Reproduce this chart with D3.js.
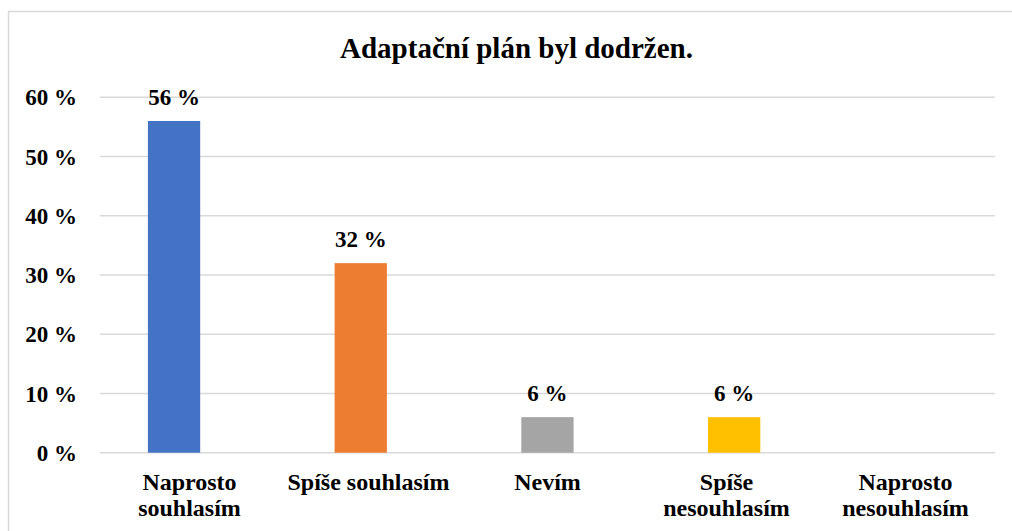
<!DOCTYPE html>
<html>
<head>
<meta charset="utf-8">
<script src="https://cdn.jsdelivr.net/npm/d3@7"></script>
<style>
  html, body { margin: 0; padding: 0; background: #fff; }
  svg { display: block; }
  text { font-family: "Liberation Serif", "Times New Roman", serif; font-weight: bold; fill: #000; }
</style>
</head>
<body>
<script>
const title = "Adaptační plán byl dodržen.";
const categories = ["Naprosto souhlasím", "Spíše souhlasím", "Nevím", "Spíše nesouhlasím", "Naprosto nesouhlasím"];
const categoryLines = [["Naprosto", "souhlasím"], ["Spíše souhlasím"], ["Nevím"], ["Spíše", "nesouhlasím"], ["Naprosto", "nesouhlasím"]];
const values = [56, 32, 6, 6, 0];
const valueLabels = ["56 %", "32 %", "6 %", "6 %", ""];
const colors = ["#4472C4", "#ED7D31", "#A5A5A5", "#FFC000", "#5B9BD5"];
const yTicks = [0, 10, 20, 30, 40, 50, 60];
const yTickLabels = ["0 %", "10 %", "20 %", "30 %", "40 %", "50 %", "60 %"];

const W = 1012, H = 531;
const svg = d3.select("body").append("svg").attr("width", W).attr("height", H);

// chart frame
svg.append("path")
  .attr("d", "M8.5,531 L8.5,11.5 L1012,11.5")
  .attr("fill", "none").attr("stroke", "#d9d9d9").attr("stroke-width", 1.5);

const y = d3.scaleLinear().domain([0, 60]).range([452.7, 97.3]);
const xBars = d3.scaleBand().domain(categories).range([80.7, 1014.2]).paddingInner(0.72).paddingOuter(0.36);
const xLabels = d3.scaleBand().domain(categories).range([100, 995]);

// gridlines
svg.append("g").selectAll("line").data(yTicks).join("line")
  .attr("x1", 100).attr("x2", 995)
  .attr("y1", d => y(d)).attr("y2", d => y(d))
  .attr("stroke", "#d9d9d9").attr("stroke-width", 1.5);

// y axis labels
const yAxis = d3.axisLeft(y).tickValues(yTicks).tickFormat((d, i) => yTickLabels[i]).tickSize(0).tickPadding(0);
const gy = svg.append("g").attr("transform", "translate(77,0)").call(yAxis);
gy.select(".domain").remove();
gy.selectAll("text").attr("font-size", 23).attr("dy", "0.33em")
  .style("font-family", '"Liberation Serif", serif').style("font-weight", "bold").attr("fill", "#000");

// bars
svg.append("g").selectAll("rect").data(values).join("rect")
  .attr("x", (d, i) => xBars(categories[i]))
  .attr("width", xBars.bandwidth())
  .attr("y", d => y(d))
  .attr("height", d => y(0) - y(d))
  .attr("fill", (d, i) => colors[i]);

// value labels
svg.append("g").selectAll("text").data(values).join("text")
  .attr("x", (d, i) => xBars(categories[i]) + xBars.bandwidth() / 2)
  .attr("y", d => y(d) - 16)
  .attr("text-anchor", "middle").attr("font-size", 23)
  .text((d, i) => valueLabels[i]);

// category labels
const gx = svg.append("g");
categoryLines.forEach((lines, i) => {
  const cx = xLabels(categories[i]) + xLabels.bandwidth() / 2;
  const t = gx.append("text")
    .attr("x", cx)
    .attr("y", 489.5)
    .attr("text-anchor", "middle").attr("font-size", 24);
  lines.forEach((ln, j) => {
    t.append("tspan").attr("x", cx)
      .attr("dy", j === 0 ? 0 : 26).text(ln);
  });
});

// title
svg.append("text").attr("x", 516.5).attr("y", 57.5)
  .attr("text-anchor", "middle").attr("font-size", 29).text(title);
</script>
</body>
</html>
